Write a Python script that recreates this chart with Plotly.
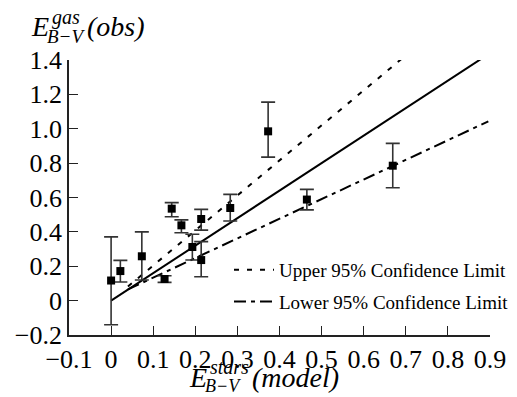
import plotly.graph_objects as go

# ---- data ----
x_model = [0.0, 0.022, 0.073, 0.127, 0.144, 0.167, 0.193, 0.214, 0.214, 0.283, 0.373, 0.465, 0.669]
y_obs = [0.117, 0.172, 0.258, 0.126, 0.535, 0.438, 0.312, 0.475, 0.236, 0.539, 0.985, 0.588, 0.785]
y_hi = [0.371, 0.234, 0.400, 0.145, 0.570, 0.470, 0.386, 0.531, 0.343, 0.618, 1.155, 0.647, 0.915]
y_lo = [-0.140, 0.108, 0.120, 0.106, 0.488, 0.395, 0.236, 0.410, 0.139, 0.463, 0.835, 0.528, 0.657]

fit_x = [0.0, 0.9]
fit_y = [0.0, 1.44]
upper_x = [0.04, 0.725]
upper_y = [0.082, 1.478]
lower_x = [0.04, 0.896]
lower_y = [0.065, 1.043]

x_ticks = [-0.1, 0, 0.1, 0.2, 0.3, 0.4, 0.5, 0.6, 0.7, 0.8, 0.9]
x_ticktext = ["\u22120.1", "0", "0.1", "0.2", "0.3", "0.4", "0.5", "0.6", "0.7", "0.8", "0.9"]
y_ticks = [-0.2, 0, 0.2, 0.4, 0.6, 0.8, 1.0, 1.2, 1.4]
y_ticktext = ["\u22120.2", "0", "0.2", "0.4", "0.6", "0.8", "1.0", "1.2", "1.4"]

FONT = "'Liberation Serif', 'Times New Roman', Times, serif"
W, H = 517, 397
ML, MR, MT, MB = 69, 27, 60, 62
PW, PH = W - ML - MR, H - MT - MB

def px(xp):
    return (xp - ML) / PW

def py(yp):
    return (H - MB - yp) / PH

err_plus = [h - y for h, y in zip(y_hi, y_obs)]
err_minus = [y - l for y, l in zip(y_obs, y_lo)]

fig = go.Figure()
fig.add_trace(go.Scatter(
    x=fit_x, y=fit_y, mode="lines", line=dict(color="black", width=2),
    showlegend=False, hoverinfo="skip"))
fig.add_trace(go.Scatter(
    x=upper_x, y=upper_y, mode="lines", name="Upper 95% Confidence Limit",
    line=dict(color="black", width=2, dash="5px,8px"), legendgroup="u"))
fig.add_trace(go.Scatter(
    x=lower_x, y=lower_y, mode="lines", name="Lower 95% Confidence Limit",
    line=dict(color="black", width=2, dash="12px,5px,4px,5px"), legendgroup="l"))
fig.add_trace(go.Scatter(
    x=x_model, y=y_obs, mode="markers", showlegend=False,
    marker=dict(symbol="square", size=8, color="black"),
    error_y=dict(type="data", symmetric=False, array=err_plus, arrayminus=err_minus,
                 color="#333333", thickness=1.6, width=7)))

annots = []
def add_text(text, xp, yp, size):
    annots.append(dict(text=text, x=px(xp), y=py(yp), xref="paper", yref="paper",
                       xanchor="left", yanchor="middle", showarrow=False,
                       borderpad=0, borderwidth=0,
                       font=dict(family=FONT, size=size, color="black")))

# y-axis title  E^{gas}_{B-V}(obs)
add_text("<i>E</i>", 31, 26, 28)
add_text("<i>gas</i>", 52, 18, 20)
add_text("<i>B\u2212V</i>", 47, 37, 19)
add_text("<i>(obs)</i>", 87, 26, 28)
# x-axis title  E^{stars}_{B-V}(model)
add_text("<i>E</i>", 189, 377, 28)
add_text("<i>stars</i>", 210, 367, 20)
add_text("<i>B\u2212V</i>", 205, 386, 18)
add_text("<i>(model)</i>", 252, 377, 28)

axis_common = dict(showgrid=False, zeroline=False, showline=True, linecolor="#222222",
                   linewidth=1.6, ticks="inside", ticklen=9, tickwidth=1.4,
                   tickcolor="#222222", mirror=False, automargin=False, tickangle=0,
                   tickfont=dict(family=FONT, size=26, color="black"))

fig.update_layout(
    width=W, height=H,
    margin=dict(l=ML, r=MR, t=MT, b=MB, autoexpand=False),
    paper_bgcolor="white", plot_bgcolor="white",
    font=dict(family=FONT, color="black"),
    xaxis=dict(range=[-0.1, 0.9], tickvals=x_ticks, ticktext=x_ticktext, **axis_common),
    yaxis=dict(range=[-0.2, 1.4], tickvals=y_ticks, ticktext=y_ticktext, **axis_common),
    legend=dict(x=px(229), y=py(251),
                xanchor="left", yanchor="top", bgcolor="rgba(0,0,0,0)",
                font=dict(family=FONT, size=19, color="black"),
                tracegroupgap=4, traceorder="grouped", itemwidth=40),
    annotations=annots,
    showlegend=True,
)

fig.write_html("out.html")
